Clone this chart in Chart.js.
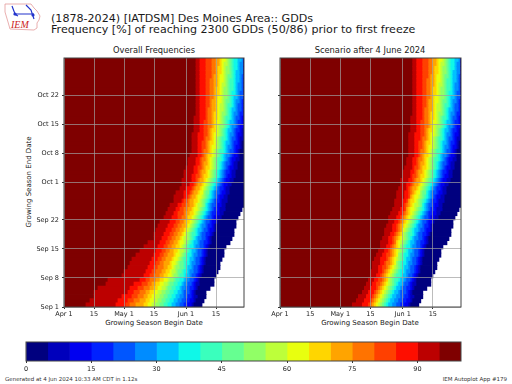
<!DOCTYPE html>
<html lang="en">
<head>
<meta charset="utf-8" />
<title>IEM Autoplot 179</title>
<script src="https://cdn.jsdelivr.net/npm/chart.js@4"></script>
<style>
  * { margin: 0; padding: 0; box-sizing: border-box; }
  body { width: 512px; height: 384px; background: #fff; overflow: hidden; position: relative; font-family: "DejaVu Sans", sans-serif; color: #1a1a1a; }
  canvas { position: absolute; left: 0; top: 0; }
  .txt { position: absolute; white-space: nowrap; }
  .title { left: 51px; font-size: 11.1px; line-height: 11px; }
  .sub { font-size: 8.3px; top: 45px; transform: translateX(-50%); }
  .axis { font-size: 7px; top: 319px; transform: translateX(-50%); }
  .foot { font-size: 5.5px; top: 376px; color: #333; }
  svg { position: absolute; left: 4px; top: 2px; }
</style>
</head>
<body>
<svg width="40" height="30" viewBox="0 0 40 30">
  <path d="M1 2 L27 2 L30 6 L33 9 L36 14 L35 18 L33 21 L33 26 L30 28 L6 27 L4 20 L1 10 Z" fill="#fff" stroke="#e39a9a" stroke-width="0.8" />
  <path d="M8 4 L11 12 L30 12 M22 3 L27 8 L30 17 M10 12 L14 14" fill="none" stroke="#2233cc" stroke-width="1.2" />
  <circle cx="11" cy="12" r="1.6" fill="#2233cc" />
  <circle cx="29" cy="13" r="1.6" fill="#2233cc" />
  <text x="7" y="25.5" font-family="Liberation Serif" font-style="italic" font-size="10" fill="#cc2222">IEM</text>
</svg>
<div class="txt title" style="top:13px">(1878-2024) [IATDSM] Des Moines Area:: GDDs</div>
<div class="txt title" style="top:24px">Frequency [%] of reaching 2300 GDDs (50/86) prior to first freeze</div>
<div class="txt sub" style="left:154px">Overall Frequencies</div>
<div class="txt sub" style="left:370px">Scenario after 4 June 2024</div>
<div class="txt axis" style="left:154px">Growing Season Begin Date</div>
<div class="txt axis" style="left:370px">Growing Season Begin Date</div>
<div class="txt" style="font-size:7px;left:28.5px;top:182px;transform:translate(-50%,-50%) rotate(-90deg)">Growing Season End Date</div>
<div class="txt foot" style="left:5px">Generated at 4 Jun 2024 10:33 AM CDT in 1.12s</div>
<div class="txt foot" style="right:5px">IEM Autoplot App #179</div>

<canvas id="left" width="512" height="384"></canvas>
<canvas id="right" width="512" height="384"></canvas>
<canvas id="bar" width="512" height="384"></canvas>

<script>
  const xTickPos = [0, 15, 30, 45, 61, 76];
  const xTickLabels = ["Apr 1", "15", "May 1", "15", "Jun 1", "15"];
  const yTickPos = [0, 7, 14, 21, 30, 37, 44, 51];
  const yTickLabels = ["Sep 1", "Sep 8", "Sep 15", "Sep 22", "Oct 1", "Oct 8", "Oct 15", "Oct 22"];
  const barTicks = [0, 15, 30, 45, 60, 75, 90];
  const barLevels = [0, 5, 10, 15, 20, 25, 30, 35, 40, 45, 50, 55, 60, 65, 70, 75, 80, 85, 90, 95, 100];

  // low frequency band to high frequency band
  const bandColors = ["#00007f", "#0000bc", "#0000f1", "#0021ff", "#0056ff", "#008cff", "#00c1ff", "#0ff8e8", "#3affbd", "#66ff91",
    "#91ff66", "#bdff3a", "#e8ff0f", "#ffd600", "#ffa400", "#ff7300", "#ff4000", "#fe0e00", "#bc0000", "#7f0000"];

  // one row per end date (Sep 1 upward): the begin-date column
  // where each colour starts going left to right, last value = end of data
  const leftEdges = [
    [11,26,31,33,36,40,42,44,46,48,50,52,54,56,58,60,62,64,65,69],
    [13,27,32,35,38,41,43,45,47,49,51,53,55,57,59,61,63,65,66,70],
    [15,29,34,37,40,42,44,46,48,50,52,54,56,58,60,62,64,65,67,71],
    [15,32,35,38,41,43,45,47,49,51,53,55,57,59,60,63,64,65,66,71],
    [17,33,37,40,43,45,47,49,51,52,54,56,58,59,61,63,65,66,67,73],
    [21,35,39,42,44,46,48,50,52,53,55,57,59,60,62,64,65,66,68,75],
    [22,38,41,43,46,48,50,52,53,55,56,58,60,61,63,65,66,67,68,75],
    [29,40,43,45,48,50,52,54,55,57,58,60,61,63,64,66,67,68,69,76],
    [30,41,44,46,49,51,53,54,56,57,59,60,62,63,65,67,68,69,70,77],
    [32,42,45,47,50,52,54,55,56,58,60,61,62,64,65,67,68,69,70,78],
    [33,43,46,48,50,53,54,56,57,58,60,61,63,64,66,68,69,70,71,78],
    [34,44,47,49,51,54,55,57,58,59,60,62,63,65,66,68,69,70,71,79],
    [36,45,48,50,52,55,56,58,59,60,61,62,64,65,67,69,70,71,72,80],
    [38,46,49,51,53,55,57,58,60,61,62,63,64,66,67,69,70,71,72,80],
    [40,47,50,52,54,56,58,59,60,61,62,63,65,66,68,70,71,72,73,81],
    [42,48,51,53,55,57,58,60,61,62,63,64,65,67,68,70,72,73,74,83],
    [45,49,52,54,56,58,59,60,62,63,64,65,66,67,69,71,72,73,74,84],
    [45,50,53,55,57,59,60,61,62,63,64,66,67,68,69,71,73,74,75,85],
    [46,51,54,56,58,60,61,62,63,64,65,66,67,69,70,72,73,75,76,85],
    [47,52,55,57,59,61,62,63,64,65,66,67,68,69,71,72,74,75,76,86],
    [48,53,56,58,60,61,63,64,65,66,67,68,69,70,71,73,74,76,77,86],
    [50,54,57,59,61,62,64,65,66,67,68,69,70,71,72,74,75,77,79,87],
    [51,55,57,60,61,63,65,66,67,68,69,70,71,72,73,74,76,78,80,88],
    [52,56,58,60,62,64,65,67,68,69,70,71,72,73,74,75,77,78,81,89],
    [53,57,59,61,63,65,66,67,69,70,71,71,72,73,74,76,77,79,81,90],
    [55,59,60,62,63,65,67,68,69,70,71,72,73,74,75,76,78,79,82,90],
    [55,60,62,63,64,66,67,69,70,71,72,73,74,75,76,77,78,80,82,90],
    [56,60,63,64,65,67,68,70,70,71,73,73,74,75,76,78,79,81,83,90],
    [58,61,64,65,66,68,69,70,71,72,73,74,75,76,77,78,80,81,83,90],
    [59,63,65,66,67,69,70,71,72,73,74,75,76,77,78,79,80,82,84,90],
    [59,64,66,67,68,70,71,72,73,74,75,76,77,78,79,80,81,83,85,90],
    [60,64,66,68,69,70,72,73,74,75,76,77,78,79,80,81,82,84,86,90],
    [60,65,67,68,69,71,72,73,74,75,76,77,78,79,80,81,83,84,86,90],
    [61,65,67,69,70,71,73,74,75,76,77,78,79,80,81,82,83,85,87,90],
    [62,66,68,69,70,72,73,74,75,76,77,78,79,80,81,83,84,85,87,90],
    [62,66,68,69,71,72,73,74,75,76,77,79,80,81,82,83,84,86,88,90],
    [63,67,69,70,71,72,74,75,76,77,78,79,80,81,83,84,85,87,88,90],
    [64,67,69,70,72,73,74,75,76,77,78,80,81,82,83,85,86,87,88,90],
    [64,67,69,71,72,73,74,76,77,78,79,80,81,82,84,85,86,88,89,90],
    [64,67,69,71,72,73,75,76,77,78,79,80,81,83,84,85,87,88,89,90],
    [64,67,70,71,73,74,75,76,77,78,79,81,82,83,84,86,87,88,90,90],
    [64,67,70,72,73,74,75,77,78,79,80,81,82,83,85,86,87,89,90,90],
    [65,68,70,72,73,74,76,77,78,79,80,81,82,84,85,86,88,89,90,90],
    [65,68,70,72,74,75,76,77,78,80,81,82,83,84,86,87,88,90,90,90],
    [65,68,70,72,74,75,76,78,79,80,81,82,83,85,86,87,89,90,90,90],
    [65,68,71,72,74,75,77,78,79,80,81,83,84,85,86,88,89,90,90,90],
    [66,68,71,72,74,75,77,78,79,81,82,83,84,85,87,88,90,90,90,90],
    [66,68,71,72,74,76,77,78,80,81,82,83,84,86,87,89,90,90,90,90],
    [66,68,71,73,74,76,77,78,80,81,82,84,85,86,87,89,90,90,90,90],
    [66,68,71,73,74,76,77,79,80,81,83,84,85,86,88,89,90,90,90,90],
    [66,68,71,73,75,76,77,79,80,82,83,84,85,87,88,90,90,90,90,90],
    [66,68,71,73,75,76,78,79,80,82,83,84,86,87,88,90,90,90,90,90],
    [66,68,71,73,75,76,78,79,80,82,83,85,86,87,89,90,90,90,90,90],
    [66,68,71,73,75,77,78,79,81,82,83,85,86,87,89,90,90,90,90,90],
    [66,68,71,73,75,77,78,80,81,82,83,85,86,88,89,90,90,90,90,90],
    [66,68,71,74,75,77,78,80,81,82,84,85,86,88,89,90,90,90,90,90],
    [66,68,71,74,76,77,79,80,81,83,84,85,86,88,90,90,90,90,90,90],
    [66,68,71,74,76,77,79,80,81,83,84,85,87,88,90,90,90,90,90,90],
    [66,68,71,74,76,78,79,80,82,83,84,85,87,88,90,90,90,90,90,90],
    [66,68,71,74,76,78,79,81,82,83,84,85,87,89,90,90,90,90,90,90],
  ];

  const rightEdgesLow = [
    [36,41,44,45,46,47,48,49,50,51,52,53,54,56,58,60,62,64,65,69],
    [38,42,45,46,47,48,49,50,51,52,53,54,55,57,59,61,63,65,66,70],
    [39,43,46,47,48,49,50,51,52,53,54,55,56,58,60,62,64,65,67,71],
    [41,44,47,48,49,50,51,52,53,54,55,56,57,59,60,63,64,65,66,71],
    [42,45,48,49,50,51,52,53,54,55,56,57,58,60,61,63,65,66,67,73],
    [43,46,48,50,51,52,53,54,55,56,57,58,59,61,62,64,65,66,68,75],
    [44,47,49,51,52,53,54,54,55,56,57,59,60,62,63,65,66,67,68,75],
    [45,48,50,51,52,53,54,55,56,57,58,60,61,63,64,66,67,68,69,76],
    [45,49,51,52,53,54,55,56,57,58,59,60,62,63,65,67,68,69,70,77],
    [46,49,51,53,54,55,56,57,58,59,60,61,62,64,65,67,68,69,70,78],
    [46,50,52,53,55,56,57,58,58,59,60,61,63,64,66,68,69,70,71,78],
    [47,50,53,54,55,56,57,58,59,60,61,62,63,65,66,68,69,70,71,79],
    [48,51,53,55,56,57,58,59,59,60,61,62,64,65,67,69,70,71,72,80],
    [49,52,54,55,56,57,58,59,60,61,62,63,64,66,67,69,70,71,72,80],
    [50,53,55,56,57,58,59,60,60,61,62,63,65,66,68,70,71,72,73,81],
    [50,54,56,57,58,58,59,60,61,62,63,64,65,67,68,70,72,73,74,83],
    [51,54,56,57,58,59,60,61,62,63,64,65,66,67,69,71,72,73,74,84],
    [52,55,57,58,59,60,61,61,62,63,64,66,67,68,69,71,73,74,75,85],
    [52,56,58,59,60,61,61,62,63,64,65,66,67,69,70,72,73,75,76,85],
    [53,56,58,59,60,61,62,63,64,65,66,67,68,69,71,72,74,75,76,86],
    [54,57,59,60,61,62,63,64,65,66,67,68,69,70,71,73,74,76,77,86],
    [54,58,60,61,62,63,64,65,66,67,68,69,70,71,72,74,75,77,79,87],
    [55,59,61,62,63,64,65,66,67,68,69,70,71,72,73,74,76,78,80,88],
    [56,60,62,63,63,64,65,67,68,69,70,71,72,73,74,75,77,78,81,89],
    [57,61,62,63,64,65,66,67,69,70,71,71,72,73,74,76,77,79,81,90],
    [57,61,63,64,64,65,67,68,69,70,71,72,73,74,75,76,78,79,82,90],
    [58,62,64,65,65,66,67,69,70,71,72,73,74,75,76,77,78,80,82,90],
    [58,62,64,65,66,67,68,70,70,71,73,73,74,75,76,78,79,81,83,90],
    [59,63,64,65,66,68,69,70,71,72,73,74,75,76,77,78,80,81,83,90],
    [60,63,65,66,67,69,70,71,72,73,74,75,76,77,78,79,80,82,84,90],
    [60,64,66,67,68,70,71,72,73,74,75,76,77,78,79,80,81,83,85,90],
    [61,65,66,68,69,70,72,73,74,75,76,77,78,79,80,81,82,84,86,90],
    [61,65,67,68,69,71,72,73,74,75,76,77,78,79,80,81,83,84,86,90],
    [62,66,67,69,70,71,73,74,75,76,77,78,79,80,81,82,83,85,87,90],
    [63,66,68,69,70,72,73,74,75,76,77,78,79,80,81,83,84,85,87,90],
    [63,66,68,69,71,72,73,74,75,76,77,79,80,81,82,83,84,86,88,90],
    [64,67,69,70,71,72,74,75,76,77,78,79,80,81,83,84,85,87,88,90],
  ];
  // both panels are the same above Oct 8
  const rightEdges = rightEdgesLow.concat(leftEdges.slice(37));

  const gridColor = "rgba(159,159,159,0.7)";
  const tickFont = { family: "DejaVu Sans", size: 6.5 };

  const frame = {
    id: "frame",
    afterDraw(chart) {
      const a = chart.chartArea;
      chart.ctx.strokeStyle = "#444";
      chart.ctx.lineWidth = 1;
      chart.ctx.strokeRect(a.left, a.top, a.right - a.left, a.bottom - a.top);
    },
  };

  // the plot boxes are pinned with padding, so the axes get a fixed room for their labels
  const roomY = (scale) => { scale.width = 40; };
  const roomX = (scale) => { scale.height = 16; };

  function heatmap(id, edges, box, showLabels) {
    const datasets = bandColors.map((color, band) => ({
      backgroundColor: color,
      data: edges.map((row, r) => {
        const start = band === 19 ? 0 : row[18 - band];
        return { x: [start, row[19 - band]], y: r + 0.5 };
      }),
    }));
    return new Chart(document.getElementById(id), {
      type: "bar",
      data: { datasets },
      plugins: [frame],
      options: {
        indexAxis: "y",
        responsive: false,
        animation: false,
        events: [],
        layout: { padding: box },
        datasets: { bar: { grouped: false, barPercentage: 1, categoryPercentage: 1, inflateAmount: 0.4 } },
        plugins: { legend: { display: false }, tooltip: { enabled: false } },
        scales: {
          x: {
            type: "linear", min: 0, max: 90,
            grid: { color: gridColor, tickColor: "#333", tickLength: 2, z: 1 },
            border: { display: false },
            afterFit: roomX,
            afterBuildTicks: (s) => { s.ticks = xTickPos.map((v) => ({ value: v })); },
            ticks: {
              autoSkip: false, maxRotation: 0, padding: 1, color: "#1a1a1a", font: tickFont,
              callback: (v) => xTickLabels[xTickPos.indexOf(v)],
            },
          },
          y: {
            type: "linear", min: 0, max: 60, offset: false,
            grid: { offset: false, color: gridColor, tickColor: "#333", tickLength: 2, z: 1 },
            border: { display: false },
            afterFit: roomY,
            afterBuildTicks: (s) => { s.ticks = yTickPos.map((v) => ({ value: v })); },
            ticks: {
              autoSkip: false, padding: 3, color: "#1a1a1a", font: tickFont,
              callback: (v) => (showLabels ? yTickLabels[yTickPos.indexOf(v)] : ""),
            },
          },
        },
      },
    });
  }

  heatmap("left", leftEdges, { left: 24, top: 58, right: 268, bottom: 61 }, true);
  heatmap("right", rightEdges, { left: 240, top: 58, right: 51, bottom: 61 }, false);

  new Chart(document.getElementById("bar"), {
    type: "bar",
    data: {
      labels: ["pct"],
      datasets: bandColors.map((color, i) => ({
        backgroundColor: color,
        data: [[barLevels[i], barLevels[i + 1]]],
      })),
    },
    plugins: [frame],
    options: {
      indexAxis: "y",
      responsive: false,
      animation: false,
      events: [],
      layout: { padding: { left: 26, top: 342, right: 51, bottom: 7 } },
      datasets: { bar: { grouped: false, barPercentage: 1, categoryPercentage: 1 } },
      plugins: { legend: { display: false }, tooltip: { enabled: false } },
      scales: {
        x: {
          type: "linear", min: 0, max: 100,
          grid: { display: true, drawOnChartArea: false, tickColor: "#333", tickLength: 2 },
          border: { display: false },
          afterFit: roomX,
          afterBuildTicks: (s) => { s.ticks = barTicks.map((v) => ({ value: v })); },
          ticks: { autoSkip: false, maxRotation: 0, padding: 2, color: "#1a1a1a", font: tickFont },
        },
        y: { display: false },
      },
    },
  });
</script>
</body>
</html>
